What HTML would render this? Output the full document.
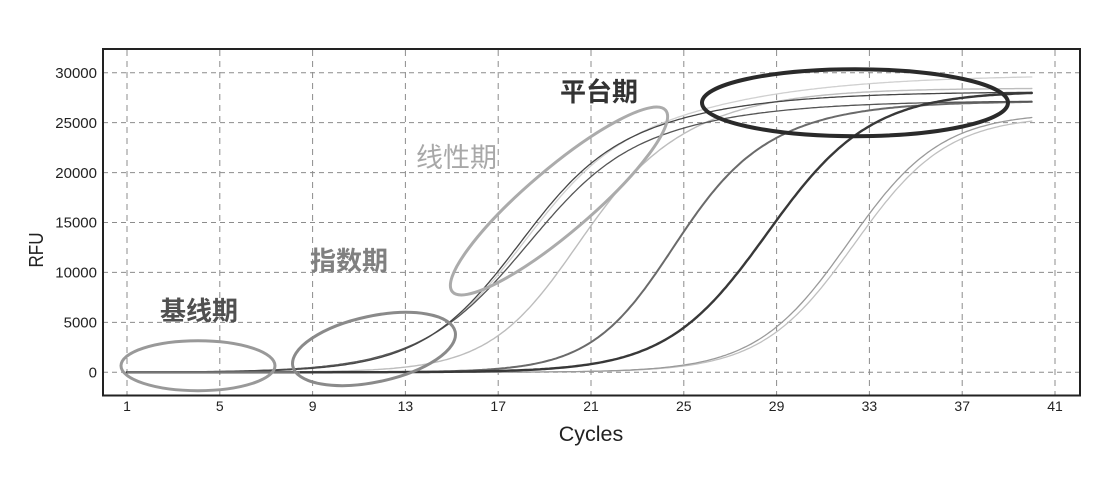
<!DOCTYPE html>
<html><head><meta charset="utf-8">
<style>
html,body{margin:0;padding:0;background:#fff;}
svg{display:block;}
text{font-family:"Liberation Sans",Arial,sans-serif;}
.cjk{font-family:"Liberation Sans","Noto Sans CJK SC","WenQuanYi Zen Hei",sans-serif;}
</style></head>
<body>
<svg id="s" width="1119" height="495" viewBox="0 0 1119 495" xmlns="http://www.w3.org/2000/svg">
<rect width="1119" height="495" fill="#fff"/>
<g stroke="#8c8c8c" stroke-width="1" stroke-dasharray="5,4" fill="none">
  <line x1="103" y1="372.3" x2="1080" y2="372.3"/>
  <line x1="103" y1="322.4" x2="1080" y2="322.4"/>
  <line x1="103" y1="272.4" x2="1080" y2="272.4"/>
  <line x1="103" y1="222.5" x2="1080" y2="222.5"/>
  <line x1="103" y1="172.6" x2="1080" y2="172.6"/>
  <line x1="103" y1="122.6" x2="1080" y2="122.6"/>
  <line x1="103" y1="72.7" x2="1080" y2="72.7"/>
</g>
<g stroke="#8c8c8c" stroke-width="1" stroke-dasharray="6,5" fill="none">
  <line x1="127" y1="50" x2="127" y2="395"/>
  <line x1="219.8" y1="50" x2="219.8" y2="395"/>
  <line x1="312.6" y1="50" x2="312.6" y2="395"/>
  <line x1="405.4" y1="50" x2="405.4" y2="395"/>
  <line x1="498.2" y1="50" x2="498.2" y2="395"/>
  <line x1="591" y1="50" x2="591" y2="395"/>
  <line x1="683.8" y1="50" x2="683.8" y2="395"/>
  <line x1="776.6" y1="50" x2="776.6" y2="395"/>
  <line x1="869.4" y1="50" x2="869.4" y2="395"/>
  <line x1="962.2" y1="50" x2="962.2" y2="395"/>
  <line x1="1055" y1="50" x2="1055" y2="395"/>
</g>
<g id="curves" fill="none" stroke-linecap="round" stroke-linejoin="round"></g>
<line x1="127" y1="372.3" x2="300" y2="372.3" stroke="#777" stroke-width="2"/>
<rect x="103" y="49" width="977" height="346.5" fill="none" stroke="#222" stroke-width="2"/>

<g fill="#222" font-size="15" text-anchor="end">
  <text x="97" y="377.5">0</text>
  <text x="97" y="327.6">5000</text>
  <text x="97" y="277.6">10000</text>
  <text x="97" y="227.7">15000</text>
  <text x="97" y="177.8">20000</text>
  <text x="97" y="127.8">25000</text>
  <text x="97" y="77.9">30000</text>
</g>
<g fill="#222" font-size="14" text-anchor="middle">
  <text x="127" y="411">1</text>
  <text x="219.8" y="411">5</text>
  <text x="312.6" y="411">9</text>
  <text x="405.4" y="411">13</text>
  <text x="498.2" y="411">17</text>
  <text x="591" y="411">21</text>
  <text x="683.8" y="411">25</text>
  <text x="776.6" y="411">29</text>
  <text x="869.4" y="411">33</text>
  <text x="962.2" y="411">37</text>
  <text x="1055" y="411">41</text>
</g>
<text x="591" y="441" font-size="21.5" fill="#222" text-anchor="middle">Cycles</text>
<text transform="translate(43,250) rotate(-90)" font-size="20" fill="#222" text-anchor="middle" textLength="35" lengthAdjust="spacingAndGlyphs">RFU</text>

<g fill="none">
  <ellipse cx="198" cy="365.7" rx="77" ry="25" stroke="#999" stroke-width="3"/>
  <ellipse cx="374" cy="349" rx="83" ry="33" transform="rotate(-12 374 349)" stroke="#8a8a8a" stroke-width="3"/>
  <ellipse cx="559" cy="201" rx="140" ry="32" transform="rotate(-40.4 559 201)" stroke="#ababab" stroke-width="3"/>
  <ellipse cx="855" cy="102.7" rx="153" ry="33.5" stroke="#2a2a2a" stroke-width="4"/>
</g>

<text class="cjk" x="560" y="101" font-size="26" font-weight="700" fill="#333">平台期</text>
<text class="cjk" x="416" y="167" font-size="27" fill="#a8a8a8">线性期</text>
<text class="cjk" x="310" y="270" font-size="26" font-weight="700" fill="#808080">指数期</text>
<text class="cjk" x="160" y="320" font-size="26" font-weight="700" fill="#505050">基线期</text>
</svg>
<script>
(function(){
var X=function(c){return 127+(c-1)*23.2;}, Y=function(v){return 372.3-v*0.009987;};
function sp(t){return t>30?t:Math.log(1+Math.exp(t));}
function path(o){
  var s='';
  for(var x=1;x<=40.0001;x+=0.1){
    var z=o.a*(x-o.c)-(o.a-o.b)*o.s*sp((x-o.x0)/o.s);
    var v=o.P/(1+Math.exp(-z));
    s+=(s?' L':'M')+X(x).toFixed(1)+','+Y(v).toFixed(1);
  }
  return s;
}
var curves=[
 {col:'#c0c0c0',w:1.3,P:25700,c:32.35,a:0.5,b:0.5,x0:30,s:1.5},
 {col:'#9a9a9a',w:1.3,P:26000,c:32.1,a:0.5,b:0.5,x0:30,s:1.5},
 {col:'#d0d0d0',w:1.3,P:29800,c:18.57,a:0.44,b:0.2,x0:21,s:1.5},
 {col:'#bdbdbd',w:1.4,P:28450,c:20.65,a:0.52,b:0.33,x0:22,s:1.5},
 {col:'#6a6a6a',w:2.0,P:27150,c:24.7,a:0.56,b:0.36,x0:26.5,s:1.5},
 {col:'#555',w:1.3,P:27200,c:18.5,a:0.42,b:0.25,x0:22,s:1.5},
 {col:'#464646',w:1.3,P:28100,c:18.2,a:0.46,b:0.25,x0:21,s:1.5},
 {col:'#383838',w:2.4,P:28150,c:28.62,a:0.46,b:0.44,x0:30,s:1.5}
];
var g=document.getElementById('curves'),ns='http://www.w3.org/2000/svg';
curves.forEach(function(cv){
  var el=document.createElementNS(ns,'path');
  el.setAttribute('d',path(cv));
  el.setAttribute('stroke',cv.col);
  el.setAttribute('stroke-width',cv.w);
  g.appendChild(el);
});
})();
</script>
</body></html>
